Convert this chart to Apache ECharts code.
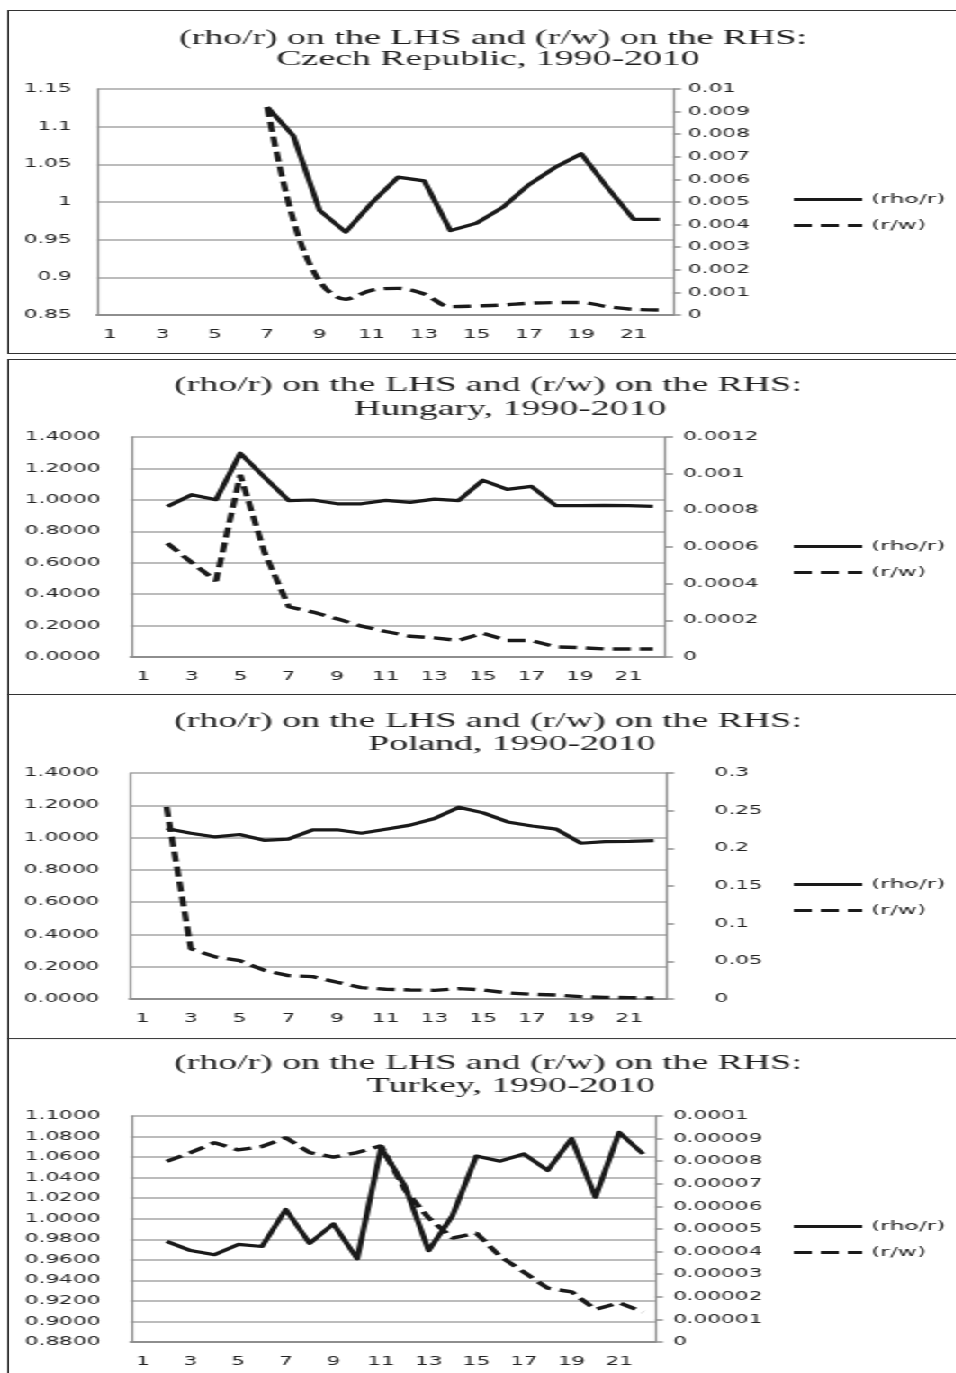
<!DOCTYPE html>
<html><head><meta charset="utf-8">
<script src="https://cdn.jsdelivr.net/npm/echarts@6/dist/echarts.min.js"></script>
<style>
html,body{margin:0;padding:0;background:#fff;overflow:hidden;width:956px;height:1373px;}
#page{position:absolute;left:0;top:0;width:531.11px;height:1373px;transform:scaleX(1.8);transform-origin:0 0;}
.box{position:absolute;left:4.44px;width:560px;border:1.3px solid #333;box-sizing:border-box;}
.chart{position:absolute;left:0;width:531.11px;}
</style></head>
<body>
<div id="page">
  <div class="box" style="top:10px;height:344px;"></div>
  <div class="box" style="top:359px;height:336px;"></div>
  <div class="box" style="top:694px;height:345px;"></div>
  <div class="box" style="top:1038px;height:400px;"></div>
  <div class="chart" id="c1" style="top:10px;height:343px;"></div>
  <div class="chart" id="c2" style="top:359px;height:335px;"></div>
  <div class="chart" id="c3" style="top:694px;height:344px;"></div>
  <div class="chart" id="c4" style="top:1038px;height:335px;"></div>
</div>
<script>
// ---- data ----
const categories = ['1','2','3','4','5','6','7','8','9','10','11','12','13','14','15','16','17','18','19','20','21','22'];
const seriesNames = ['(rho/r)', '(r/w)'];
const titleLine1 = '(rho/r) on the LHS and (r/w) on the RHS:';
const countries = ['Czech Republic, 1990-2010', 'Hungary, 1990-2010', 'Poland, 1990-2010', 'Turkey, 1990-2010'];

const czRho = [null,null,null,null,null,null,1.126,1.088,0.989,0.960,0.999,1.033,1.028,0.962,0.972,0.993,1.023,1.046,1.064,1.019,0.977,0.977];
const czRw  = [null,null,null,null,null,null,0.0092,0.0042,0.0015,0.0007,0.0011,0.00118,0.00093,0.00037,0.0004,0.00044,0.00052,0.00055,0.00055,0.00037,0.00025,0.00022];

const huRho = [null,0.958,1.033,1.001,1.297,1.144,0.995,0.999,0.975,0.975,0.997,0.984,1.005,0.995,1.125,1.067,1.086,0.963,0.963,0.965,0.963,0.958];
const huRw  = [null,0.00062,0.000515,0.000415,0.000994,0.00057,0.000274,0.000245,0.000208,0.000168,0.000139,0.000113,0.000104,0.00009,0.00013,0.00009,0.00009,0.000055,0.000051,0.000044,0.000044,0.000044];

const plRho = [null,1.056,1.027,1.004,1.019,0.983,0.990,1.048,1.048,1.027,1.052,1.077,1.118,1.188,1.153,1.097,1.072,1.052,0.965,0.975,0.977,0.981];
const plRw  = [null,0.255,0.0666,0.0559,0.051,0.0382,0.031,0.0297,0.0222,0.0151,0.0129,0.012,0.0115,0.0138,0.012,0.008,0.0062,0.0053,0.0031,0.0022,0.0018,0.0013];

const trRho = [null,0.978,0.969,0.965,0.975,0.973,1.009,0.976,0.995,0.961,1.069,1.032,0.969,1.003,1.061,1.056,1.063,1.047,1.078,1.021,1.084,1.063];
const trRw  = [null,0.0000799,0.0000838,0.0000882,0.000085,0.0000865,0.0000904,0.0000838,0.0000818,0.0000838,0.0000868,0.0000674,0.0000549,0.000046,0.0000482,0.0000379,0.0000309,0.0000238,0.0000222,0.0000144,0.0000174,0.0000132];

// axis ranges [min, max, interval, decimals, fixed]
const leftAxes  = [[0.85,1.15,0.05,2,false],[0,1.4,0.2,4,true],[0,1.4,0.2,4,true],[0.88,1.1,0.02,4,true]];
const rightAxes = [[0,0.01,0.001,3],[0,0.0012,0.0002,4],[0,0.3,0.05,2],[0,0.0001,0.00001,5]];

// ---- layout (unscaled x, px) ----
const SX = 1.8;
const layouts = [
  {grid:{left:97/SX, width:576/SX, top:79, height:226}, t1x:493/SX, t2x:488/SX, t1y:29, t2y:50, lm:14, rm:8.3, legTop:178, smoothRw:true},
  {grid:{left:131/SX, width:534/SX, top:78, height:220}, t1x:488/SX, t2x:510/SX, t1y:27, t2y:51, lm:17, rm:10, legTop:176, smoothRw:false},
  {grid:{left:130/SX, width:536/SX, top:79, height:226}, t1x:488/SX, t2x:512/SX, t1y:28, t2y:51, lm:17, rm:27, legTop:179, smoothRw:false},
  {grid:{left:131/SX, width:524/SX, top:78, height:226}, t1x:488/SX, t2x:511/SX, t1y:26, t2y:49, lm:17, rm:10, legTop:177, smoothRw:false}
];
const dataSets = [[czRho, czRw],[huRho, huRw],[plRho, plRw],[trRho, trRw]];

const axisFont = {fontFamily:'DejaVu Sans', fontSize:12, color:'#222'};
const gray = '#8e8e8e';

function fmt(d){ return v => String(+(+v).toFixed(d)); }
function fmtFixed(d){ return v => (+v).toFixed(d); }

for (let i = 0; i < 4; i++) {
  const L = layouts[i];
  const la = leftAxes[i], ra = rightAxes[i];
  const chart = echarts.init(document.getElementById('c' + (i+1)), null, {renderer:'canvas'});
  const titleStyle = {fontFamily:'Liberation Serif', fontSize:21, fontWeight:'normal', color:'#1e1e1e'};
  chart.setOption({
    animation:false,
    title:[
      {text:titleLine1, left:L.t1x, top:L.t1y - 11, textAlign:'center', textStyle:titleStyle, padding:0},
      {text:countries[i], left:L.t2x, top:L.t2y - 11, textAlign:'center', textStyle:titleStyle, padding:0}
    ],
    legend:{
      orient:'vertical', left:782/SX, top:L.legTop, itemWidth:38, itemHeight:14, itemGap:13,
      itemStyle:{opacity:0},
      lineStyle:{width:3.2},
      textStyle:{fontFamily:'DejaVu Sans', fontSize:13, color:'#222'},
      data:seriesNames
    },
    grid:L.grid,
    xAxis:{
      type:'category', data:categories, boundaryGap:true,
      axisLine:{lineStyle:{color:gray, width:2}},
      axisTick:{show:false},
      axisLabel:Object.assign({interval:1, margin:14}, axisFont),
      splitLine:{show:false}
    },
    yAxis:[
      {type:'value', position:'left', min:la[0], max:la[1], interval:la[2],
       axisLine:{show:true, lineStyle:{color:gray, width:1.2}},
       axisTick:{show:false},
       axisLabel:Object.assign({margin:L.lm, formatter: la[4] ? fmtFixed(la[3]) : fmt(la[3])}, axisFont),
       splitLine:{show:true, lineStyle:{color:'#a6a6a6', width:1.5}}},
      {type:'value', position:'right', min:ra[0], max:ra[1], interval:ra[2],
       axisLine:{show:true, lineStyle:{color:gray, width:1.2}},
       axisTick:{show:true, inside:false, length:4.5, lineStyle:{color:gray, width:1.5}},
       axisLabel:Object.assign({margin:L.rm, formatter: fmt(ra[3])}, axisFont),
       splitLine:{show:false}}
    ],
    series:[
      {name:seriesNames[0], type:'line', yAxisIndex:0, data:dataSets[i][0], symbol:'none',
       color:'#1a1a1a', lineStyle:{color:'#1a1a1a', width:3.2, join:'round'}},
      {name:seriesNames[1], type:'line', yAxisIndex:1, data:dataSets[i][1], symbol:'none',
       smooth: L.smoothRw ? 0.35 : false,
       color:'#1a1a1a', lineStyle:{color:'#1a1a1a', width:3.4, type:[10,5]}}
    ]
  });
}
</script>
</body></html>
